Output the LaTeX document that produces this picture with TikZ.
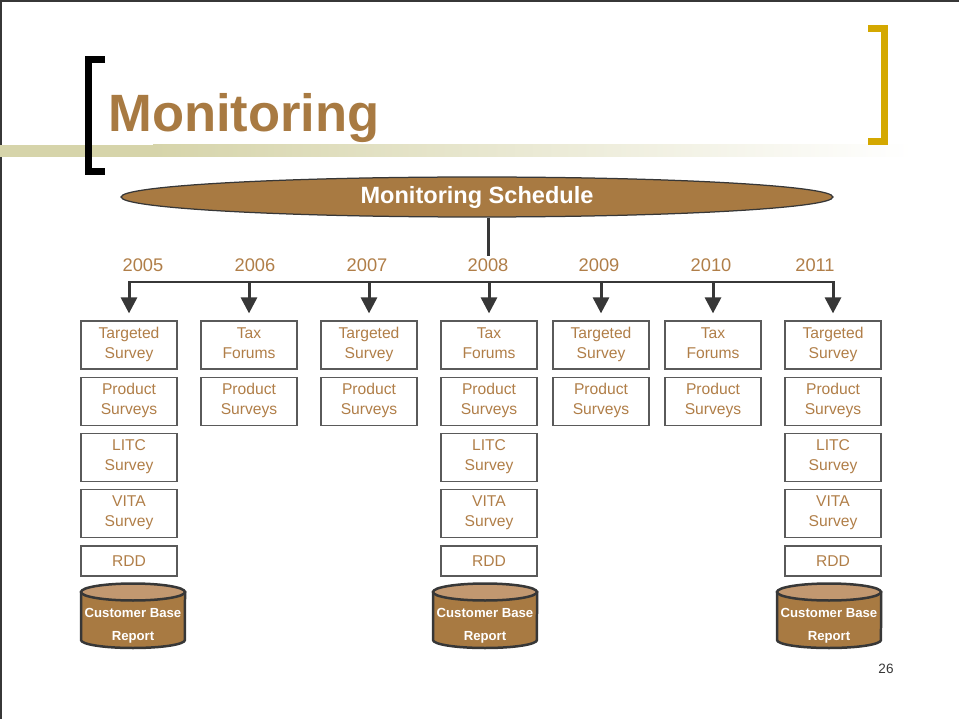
\documentclass[tikz,border=0pt]{standalone}
\usepackage{fontspec}
\setmainfont{Liberation Sans}
\usetikzlibrary{arrows.meta,positioning,shapes.geometric}
\definecolor{brownfill}{RGB}{168,122,66}
\definecolor{browntext}{RGB}{176,126,72}
\definecolor{brownlight}{RGB}{194,152,112}
\definecolor{goldbar}{RGB}{212,168,0}
\definecolor{khaki}{RGB}{214,212,170}
\definecolor{edgegray}{RGB}{55,55,55}
\definecolor{boxgray}{RGB}{90,90,90}
\newcommand\boxtopstrut{\rule{0pt}{8.9pt}}
\newcommand\boxbotstrut{\rule[-2.5pt]{0pt}{2.5pt}}

\begin{document}
\begin{tikzpicture}[x=0.02cm,y=-0.02cm,>={Triangle[length=0.32cm,width=0.32cm]},
                    node distance=0.14cm]
  \tikzstyle{task}=[draw=boxgray,line width=0.025cm,text=browntext,align=center,
                    minimum width=1.92cm,minimum height=0.96cm,inner sep=0pt,
                    font=\fontsize{8.9}{11.4}\selectfont,
                    execute at begin node=\boxtopstrut,
                    execute at end node=\boxbotstrut]
  \tikzstyle{short}=[task,minimum height=0.6cm]
  \tikzstyle{year}=[text=browntext,inner sep=0pt,font=\fontsize{10.4}{12}\selectfont]
  \tikzstyle{report}=[text=white,align=center,inner sep=0pt,
                      font=\fontsize{7.5}{13.1}\selectfont\bfseries]
  \tikzstyle{link}=[draw=edgegray,line width=0.06cm]

  \useasboundingbox (0,0) rectangle (959,719);
  \draw[edgegray,line width=0.04cm] (1,719) -- (1,1) -- (959,1);

  % title band
  \fill[khaki] (0,145) rectangle (153,157);
  \shade[left color=khaki,right color=white] (153,145) rectangle (912,157);
  \draw[black,line width=0.14cm,line join=miter] (105,59.5) -- (88,59.5) -- (88,172) -- (105,172);
  \draw[goldbar,line width=0.14cm,line join=miter] (868,29) -- (884.5,29) -- (884.5,142) -- (868,142);
  \node[anchor=base west,inner sep=0pt,text=brownfill,
        font=\fontsize{29.9}{34}\selectfont\bfseries] (TITLE) at (108,132) {Monitoring};

  % schedule
  \node[ellipse,draw=edgegray,line width=0.025cm,fill=brownfill,text=white,
        minimum width=14.24cm,minimum height=0.8cm,inner sep=0pt,
        font=\fontsize{13.4}{16}\selectfont\bfseries] (SCHED) at (477,197) {Monitoring Schedule};
  \coordinate (HUB) at (488,282);

  \foreach \yr/\x in {2005/143,2006/255,2007/367,2008/488,2009/599,2010/711,2011/815}
    \node[year] (Y\yr) at (\x,265.5) {\yr};

  % 2005
  \node[task]  (TS05)   at (129,345)        {Targeted\\Survey};
  \node[task]  (PS05)   [below=of TS05]     {Product\\Surveys};
  \node[task]  (LITC05) [below=of PS05]     {LITC\\Survey};
  \node[task]  (VITA05) [below=of LITC05]   {VITA\\Survey};
  \node[short] (RDD05)  [below=of VITA05]   {RDD};
  % 2006
  \node[task]  (TF06)   at (249,345)        {Tax\\Forums};
  \node[task]  (PS06)   [below=of TF06]     {Product\\Surveys};
  % 2007
  \node[task]  (TS07)   at (369,345)        {Targeted\\Survey};
  \node[task]  (PS07)   [below=of TS07]     {Product\\Surveys};
  % 2008
  \node[task]  (TF08)   at (489,345)        {Tax\\Forums};
  \node[task]  (PS08)   [below=of TF08]     {Product\\Surveys};
  \node[task]  (LITC08) [below=of PS08]     {LITC\\Survey};
  \node[task]  (VITA08) [below=of LITC08]   {VITA\\Survey};
  \node[short] (RDD08)  [below=of VITA08]   {RDD};
  % 2009
  \node[task]  (TS09)   at (601,345)        {Targeted\\Survey};
  \node[task]  (PS09)   [below=of TS09]     {Product\\Surveys};
  % 2010
  \node[task]  (TF10)   at (713,345)        {Tax\\Forums};
  \node[task]  (PS10)   [below=of TF10]     {Product\\Surveys};
  % 2011
  \node[task]  (TS11)   at (833,345)        {Targeted\\Survey};
  \node[task]  (PS11)   [below=of TS11]     {Product\\Surveys};
  \node[task]  (LITC11) [below=of PS11]     {LITC\\Survey};
  \node[task]  (VITA11) [below=of LITC11]   {VITA\\Survey};
  \node[short] (RDD11)  [below=of VITA11]   {RDD};

  % customer base reports
  \foreach \x/\n in {133/REP05,485/REP08,829/REP11} {
    \path[fill=brownfill,draw=edgegray,line width=0.05cm]
      (\x-52,592) -- (\x-52,640)
      arc[start angle=180,end angle=360,x radius=1.04cm,y radius=0.16cm]
      -- (\x+52,592) -- cycle;
    \draw[fill=brownlight,draw=edgegray,line width=0.05cm]
      (\x,592) ellipse [x radius=1.04cm,y radius=0.17cm];
    \node[report] (\n) at (\x,625.5) {Customer Base\\Report};
  }

  % connectors
  \path[link] (HUB |- SCHED.south) -- ([yshift=0.05cm]Y2008.north -| HUB);
  \path[link,line cap=rect] (HUB -| TS05) -- (HUB -| TS11);
  \foreach \n in {TS05,TF06,TS07,TF08,TS09,TF10,TS11}
    \path[link,fill=edgegray,->,shorten >=0.14cm] (HUB -| \n) -- (\n.north);

  \node[text=edgegray,inner sep=0pt,font=\fontsize{7.7}{9}\selectfont] (PAGE) at (886,669) {26};
\end{tikzpicture}
\end{document}
